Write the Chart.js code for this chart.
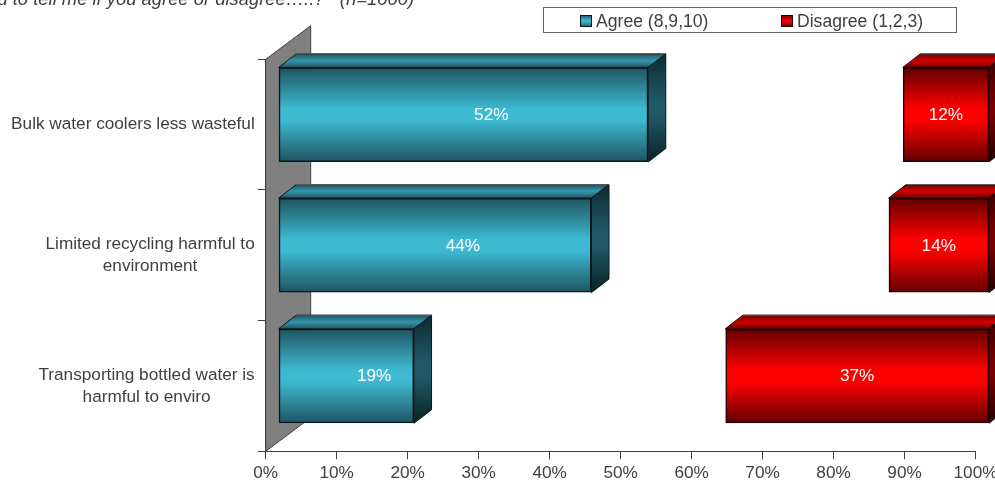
<!DOCTYPE html>
<html><head><meta charset="utf-8">
<style>html,body{margin:0;padding:0;background:#fff;overflow:hidden}canvas{display:block}</style>
<script src="https://cdn.jsdelivr.net/npm/chart.js@4"></script>
</head><body><canvas id="c" width="995" height="480"></canvas>
<script>
const titleText = "I'd like you to tell me if you agree or disagree\u2026..?   (n=1000)";
const categories = [
  ["Bulk water coolers less wasteful"],
  ["Limited recycling harmful to", "environment"],
  ["Transporting bottled water is", "harmful to enviro"]
];
const agreeValues = [52, 44, 19];
const neutralValues = [36, 42, 44];
const disagreeValues = [12, 14, 37];
const xTicksStep = 10;
const agreeLabel = "Agree (8,9,10)";
const disagreeLabel = "Disagree (1,2,3)";

const FONT = '"Liberation Sans", Arial, sans-serif';
const TXT = '#404040';
const BAR_RATIO = 0.7155;
const INFLATE = 0.5;
const FRONT = {dx: 13.0, dy: -10};
const DEPTH = {dx: 17.5, dy: -13.5};
const WALL = {dx: 45, dy: -33.6};
const AGREE_LABEL_SHIFT = 27.8;

const TEAL = {front:['#1f5562','#3dbad2','#1f5562'], top:['#1f5562','#338fa3','#1f5562'],
  side:['#0d2a30','#205a67','#0a2226'], edge:'#08191d', swatch:'#3ab4cc'};
const RED = {front:['#640000','#ff0000','#640000'], top:['#700000','#c80000','#700000'],
  side:['#300000','#780000','#240000'], edge:'#1e0000', swatch:'#f00000'};

function grad(ctx, y0, y1, s){
  const g = ctx.createLinearGradient(0,y0,0,y1);
  g.addColorStop(0,s[0]); g.addColorStop(0.44,s[1]); g.addColorStop(0.56,s[1]); g.addColorStop(1,s[2]);
  return g;
}
function frontFill(pal){
  return function(c){
    const y = c.chart.scales.y;
    if(!y || c.dataIndex == null || !y.height) return pal.swatch;
    const yc = y.getPixelForValue(c.dataIndex), h = y.height/categories.length*BAR_RATIO;
    return grad(c.chart.ctx, yc-h/2, yc+h/2, pal.front);
  };
}
function poly(ctx, pts, fill, stroke){
  ctx.beginPath();
  pts.forEach((p,i)=> i?ctx.lineTo(p[0],p[1]):ctx.moveTo(p[0],p[1]));
  ctx.closePath();
  ctx.fillStyle=fill; ctx.fill();
  ctx.lineWidth=1; ctx.strokeStyle=stroke; ctx.stroke();
}

const prism = {
  id:'prism',
  beforeDatasetsDraw(chart){
    const {ctx, chartArea:a} = chart;
    ctx.save();
    poly(ctx, [[a.left,a.top],[a.left+WALL.dx,a.top+WALL.dy],[a.left+WALL.dx,a.bottom+WALL.dy],[a.left,a.bottom]], '#808080', '#404040');
    ctx.restore();
  },
  beforeDatasetDraw(chart,args){
    const ctx = chart.ctx, ds = chart.data.datasets[args.index];
    ctx.save();
    ctx.translate(FRONT.dx, FRONT.dy);
    if(!ds.palette) return;
    const p = ds.palette;
    args.meta.data.forEach(el=>{
      const t=el.y-el.height/2-INFLATE, b=el.y+el.height/2+INFLATE, l=el.base-INFLATE, r=el.x+INFLATE, dx=DEPTH.dx, dy=DEPTH.dy;
      poly(ctx, [[l,t],[l+dx,t+dy],[r+dx,t+dy],[r,t]], grad(ctx,t+dy,t,p.top), p.edge);
      poly(ctx, [[r,t],[r+dx,t+dy],[r+dx,b+dy],[r,b]], grad(ctx,t+dy,b,p.side), p.edge);
      ctx.beginPath(); ctx.moveTo(l+dx,t+dy); ctx.lineTo(r+dx,t+dy);
      ctx.strokeStyle='#5a5a5a'; ctx.lineWidth=1; ctx.stroke();
    });
  },
  afterDatasetDraw(chart){ chart.ctx.restore(); },
  afterDatasetsDraw(chart){
    const ctx = chart.ctx;
    ctx.save();
    ctx.font='17.2px '+FONT; ctx.fillStyle='#ffffff'; ctx.textAlign='center'; ctx.textBaseline='middle';
    chart.data.datasets.forEach((ds,i)=>{
      if(!ds.palette) return;
      chart.getDatasetMeta(i).data.forEach((el,j)=>{
        const shift = ds.palette===TEAL ? AGREE_LABEL_SHIFT : 0;
        ctx.fillText(ds.data[j]+'%', (el.x+el.base)/2+FRONT.dx+shift, el.y+FRONT.dy+0.5);
      });
    });
    ctx.restore();
  },
  afterDraw(chart){
    const ctx = chart.ctx;
    ctx.save();
    // category labels: each block ends at the axis, its lines centred on one another
    const ys = chart.scales.y, LH = 22;
    ctx.font='17.2px '+FONT; ctx.fillStyle=TXT; ctx.textBaseline='middle'; ctx.textAlign='center';
    chart.data.labels.forEach((lines,i)=>{
      const w = Math.max(...lines.map(s=>ctx.measureText(s).width));
      const right = ys.right-8-3, yc = ys.getPixelForTick(i);
      lines.forEach((s,k)=> ctx.fillText(s, right-w/2, yc+(k-(lines.length-1)/2)*LH));
    });
    // title, running off the top-left corner
    ctx.font='italic 18.4px '+FONT; ctx.fillStyle=TXT; ctx.textAlign='right'; ctx.textBaseline='alphabetic';
    ctx.fillText(titleText, 414, 4.5);
    // legend
    ctx.lineWidth=1; ctx.strokeStyle='#666'; ctx.strokeRect(543.5,7.5,413,25);
    ctx.strokeRect(543.5,7.5,413,25);
    ctx.font='17.6px '+FONT; ctx.textAlign='left'; ctx.textBaseline='middle';
    [[chart.data.datasets[0],580],[chart.data.datasets[2],781]].forEach(([ds,x])=>{
      const p=ds.palette;
      ctx.fillStyle=grad(ctx,15,27,[p.front[0],p.swatch,p.front[2]]);
      ctx.fillRect(x+.5,15.5,11,11);
      ctx.strokeStyle=p.edge; ctx.strokeRect(x+.5,15.5,11,11);
      ctx.fillStyle=TXT; ctx.fillText(ds.label,x+16,22.5);
    });
    ctx.restore();
  }
};

new Chart(document.getElementById('c'),{
  type:'bar',
  plugins:[prism],
  data:{labels:categories,datasets:[
    {label:agreeLabel,data:agreeValues,palette:TEAL,backgroundColor:frontFill(TEAL),borderColor:TEAL.edge,borderWidth:1.5,borderSkipped:false,inflateAmount:INFLATE,clip:false},
    {label:'Neutral',data:neutralValues,backgroundColor:'rgba(0,0,0,0)',borderWidth:0,inflateAmount:0,clip:false},
    {label:disagreeLabel,data:disagreeValues,palette:RED,backgroundColor:frontFill(RED),borderColor:RED.edge,borderWidth:1.5,borderSkipped:false,inflateAmount:INFLATE,clip:false}
  ]},
  options:{
    indexAxis:'y',responsive:false,animation:false,
    layout:{padding:{top:59.3,right:19.5,left:0,bottom:0}},
    datasets:{bar:{categoryPercentage:1,barPercentage:BAR_RATIO}},
    plugins:{legend:{display:false},title:{display:false},tooltip:{enabled:false}},
    scales:{
      x:{type:'linear',stacked:true,min:0,max:100,
        afterFit(s){s.height=28.7;s.paddingLeft=0;s.paddingRight=0;},
        grid:{drawOnChartArea:false,tickLength:8,tickColor:TXT},
        border:{color:TXT,width:1},
        ticks:{stepSize:xTicksStep,autoSkip:false,maxRotation:0,minRotation:0,padding:4,color:TXT,font:{family:FONT,size:17.2},callback:v=>v+'%'}},
      y:{type:'category',stacked:true,
        afterFit(s){s.width=265.7;},
        grid:{drawOnChartArea:false,tickLength:8,tickColor:TXT},
        border:{color:TXT,width:1},
        ticks:{display:false,autoSkip:false}}
    }
  }
});
</script></body></html>
